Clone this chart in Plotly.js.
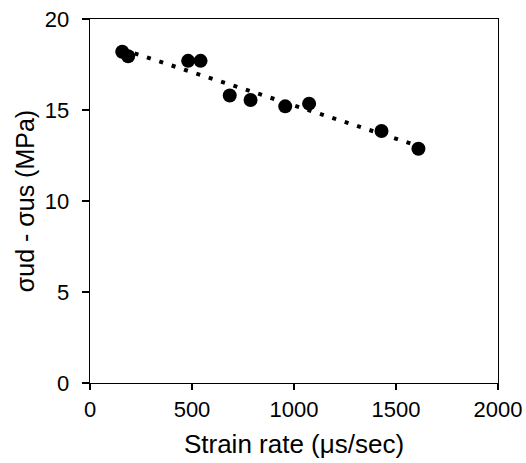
<!DOCTYPE html>
<html><head><meta charset="utf-8">
<script src="https://cdn.plot.ly/plotly-3.0.1.min.js"></script>
<style>html,body{margin:0;padding:0;background:#fff}#chart{width:526px;height:463px}</style>
</head><body><div id="chart"></div>
<script>
const strainRate = [158, 187, 481, 542, 685, 787, 957, 1074, 1429, 1610];
const stressDiff = [18.2, 17.95, 17.7, 17.7, 15.8, 15.55, 15.2, 15.35, 13.85, 12.87];
const xTicks = [0, 500, 1000, 1500, 2000];
const yTicks = [0, 5, 10, 15, 20];

// linear least-squares trendline from the data
const n = strainRate.length;
const mx = strainRate.reduce((a,b)=>a+b,0)/n;
const my = stressDiff.reduce((a,b)=>a+b,0)/n;
let sxy=0, sxx=0;
for (let i=0;i<n;i++){ sxy+=(strainRate[i]-mx)*(stressDiff[i]-my); sxx+=(strainRate[i]-mx)**2; }
const slope = sxy/sxx, intercept = my - slope*mx;
const xMin = Math.min(...strainRate), xMax = Math.max(...strainRate);
const trendX = [xMin, xMax];
const trendY = trendX.map(x => intercept + slope*x);

const FAM = 'Liberation Sans, Arial, sans-serif';
const data = [
  {x: trendX, y: trendY, type: 'scatter', mode: 'lines',
   line: {color: '#000', width: 4, dash: '4px,9px'}, hoverinfo: 'skip'},
  {x: strainRate, y: stressDiff, type: 'scatter', mode: 'markers',
   marker: {color: '#000', size: 14}}
];
const layout = {
  width: 526, height: 463,
  margin: {l: 89.5, r: 28, t: 19, b: 80},
  showlegend: false,
  paper_bgcolor: '#fff', plot_bgcolor: '#fff',
  font: {family: FAM, size: 22, color: '#000'},
  xaxis: {range: [0, 2000], tickvals: xTicks, ticks: 'outside', ticklen: 6, tickwidth: 1.3,
    tickcolor: '#000', showline: true, linecolor: '#000', linewidth: 1.3, mirror: true,
    showgrid: false, zeroline: false, tickfont: {family: FAM, size: 22, color: '#000'},
    title: {text: 'Strain rate (μs/sec)', font: {family: FAM, size: 26, color: '#000'}, standoff: 14}},
  yaxis: {range: [0, 20], tickvals: yTicks, ticks: 'outside', ticklen: 7, tickwidth: 1.3,
    tickcolor: '#000', showline: true, linecolor: '#000', linewidth: 1.3, mirror: true,
    ticklabelstandoff: 8,
    showgrid: false, zeroline: false, tickfont: {family: FAM, size: 22, color: '#000'},
    title: {text: 'σud - σus (MPa)', font: {family: FAM, size: 25, color: '#000'}, standoff: 3}}
};
Plotly.newPlot('chart', data, layout, {staticPlot: true});
</script></body></html>
